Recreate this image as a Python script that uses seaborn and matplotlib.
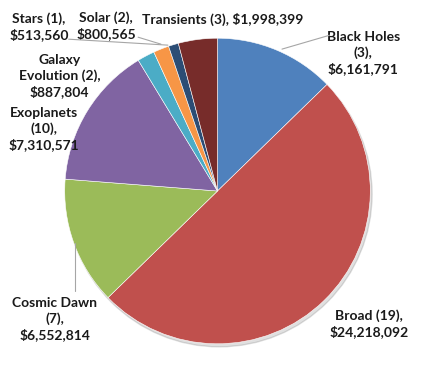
import numpy as np
import matplotlib
matplotlib.use('Agg')
import matplotlib.pyplot as plt
import seaborn as sns

categories = ['Black Holes', 'Broad', 'Cosmic Dawn', 'Exoplanets',
              'Galaxy Evolution', 'Solar', 'Stars', 'Transients']
counts = [3, 19, 7, 10, 2, 2, 1, 3]
funding = [6161791, 24218092, 6552814, 7310571, 887804, 800565, 513560, 1998399]

colors = ['#4F81BD', '#C0504D', '#9BBB59', '#8064A2',
          '#4BACC6', '#F79646', '#2C4D75', '#772C2A']

sns.set_style('white')
plt.rcParams['font.family'] = ['Lato', 'DejaVu Sans']

W, H = 435, 382
fig = plt.figure(figsize=(W / 100, H / 100), dpi=100)
ax = fig.add_axes([0, 0, 1, 1])

# pie centre / radius in pixels
cx, cy, r = 217, 191, 154
ax.set_xlim(-cx / r, (W - cx) / r)
ax.set_ylim(-(H - cy) / r, cy / r)
ax.axis('off')

# faint shadow
shadow = plt.Circle((0.012, -0.02), 1.0, color='#000000', alpha=0.12, zorder=0)
ax.add_patch(shadow)

ax.pie(funding, colors=colors, startangle=90, counterclock=False,
       radius=1.0, wedgeprops=dict(linewidth=0.4, edgecolor='#ffffff'))

labels = {
    'Black Holes': ('Black Holes\n(3),\n$6,161,791', 364, 52),
    'Broad': ('Broad (19),\n$24,218,092', 370, 325),
    'Cosmic Dawn': ('Cosmic Dawn\n(7),\n$6,552,814', 53, 320),
    'Exoplanets': ('Exoplanets\n(10),\n$7,310,571', 42, 129),
    'Galaxy Evolution': ('Galaxy\nEvolution (2),\n$887,804', 58, 75),
    'Solar': ('Solar (2),\n$800,565', 105, 24),
    'Stars': ('Stars (1),\n$513,560', 37, 25),
    'Transients': ('Transients (3), $1,998,399', 222, 18),
}

def px(x, y):
    return (x - cx) / r, (cy - y) / r

for name, n, val in zip(categories, counts, funding):
    txt, x, y = labels[name]
    ax.text(*px(x, y), txt, ha='center', va='center', fontsize=10,
            fontweight='bold', color='#1a1a1a', linespacing=1.3)

leaders = [
    [(330, 34), (282, 48)],
    [(73, 243), (73, 292)],
    [(67, 38), (167, 44)],
    [(137, 36), (160, 43)],
]
for seg in leaders:
    xs, ys = zip(*[px(a, b) for a, b in seg])
    ax.plot(xs, ys, color='#a6a6a6', lw=0.8, zorder=3)

fig.savefig('out.png', dpi=100)
